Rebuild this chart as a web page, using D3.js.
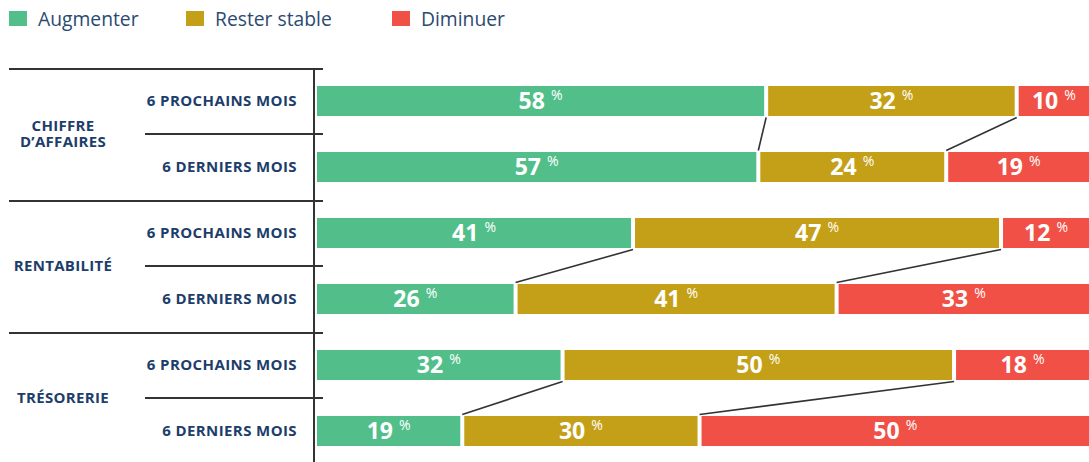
<!DOCTYPE html>
<html>
<head>
<meta charset="utf-8">
<script src="https://cdn.jsdelivr.net/npm/d3@7"></script>
<style>
  html, body { margin: 0; padding: 0; background: #fff; }
  svg { display: block; font-family: "Open Sans", "Noto Sans", sans-serif; }
</style>
</head>
<body>
<div id="chart"></div>
<script>
// Stacked horizontal bars: expected vs past evolution, per indicator

const WIDTH = 1089
const HEIGHT = 462

// DATA
const groups = [["CHIFFRE", "D\u2019AFFAIRES"], ["RENTABILIT\u00c9"], ["TR\u00c9SORERIE"]]
const periods = ["6 PROCHAINS MOIS", "6 DERNIERS MOIS"]
const series = ["Augmenter", "Rester stable", "Diminuer"]
const colors = ["#52bf8b", "#c4a018", "#f15046"]

// one value per row: group x period, in reading order
const augmenter    = [58, 57, 41, 26, 32, 19]
const resterStable = [32, 24, 47, 41, 50, 30]
const diminuer     = [10, 19, 12, 33, 18, 50]

const TEXT = "#1d3d6b"
const LINE = "#333"

const rows = []
groups.forEach((g, gi) => {
  periods.forEach((p, pi) => {
    const i = gi * periods.length + pi
    rows.push({
      key: i,
      group: gi,
      period: p,
      "Augmenter": augmenter[i],
      "Rester stable": resterStable[i],
      "Diminuer": diminuer[i]
    })
  })
})

const svg = d3.select("#chart")
  .append("svg")
  .attr("width", WIDTH)
  .attr("height", HEIGHT)

// SCALES
const x = d3.scaleLinear().domain([0, 1]).range([312, 1095])
const y = d3.scaleBand()
  .domain(rows.map(d => d.key))
  .range([68, 464])
  .paddingInner(0.545)
  .paddingOuter(0.2725)

const color = d3.scaleOrdinal().domain(series).range(colors)

const stack = d3.stack().keys(series).offset(d3.stackOffsetExpand)
const stacked = stack(rows)

const BAR_LEFT = 317
const GAP = 2

// LEGEND
const legendX = [9, 186, 392]
const legend = svg.append("g")
  .selectAll("g")
  .data(series)
  .join("g")
    .attr("transform", (d, i) => `translate(${legendX[i]},11)`)
legend.append("rect")
  .attr("width", 18)
  .attr("height", 15)
  .attr("fill", d => color(d))
legend.append("text")
  .attr("x", 29)
  .attr("y", 14.5)
  .attr("fill", "#2b4a72")
  .style("font-size", "19.3px")
  .text(d => d)

// BARS
const layers = svg.append("g")
  .selectAll("g")
  .data(stacked)
  .join("g")
    .attr("fill", d => color(d.key))

const segLeft = d => d[0] === 0 ? BAR_LEFT : x(d[0]) + GAP
const segRight = d => x(d[1]) - GAP

layers.selectAll("rect")
  .data(d => d)
  .join("rect")
    .attr("x", segLeft)
    .attr("y", d => y(d.data.key))
    .attr("width", d => segRight(d) - segLeft(d))
    .attr("height", y.bandwidth())

// value labels
const labels = svg.append("g")
  .selectAll("g")
  .data(stacked)
  .join("g")
  .selectAll("text")
  .data(s => s.map(d => ({ d: d, v: d.data[s.key] })))
  .join("text")
    .attr("x", o => (segLeft(o.d) + Math.min(segRight(o.d), WIDTH)) / 2)
    .attr("y", o => y(o.d.data.key) + y.bandwidth() / 2 + 8)
    .attr("text-anchor", "middle")
    .attr("fill", "#fff")
    .style("font-weight", 700)
    .style("font-size", "23px")
labels.append("tspan").text(o => o.v)
labels.append("tspan")
  .attr("dx", 6)
  .attr("dy", -9)
  .style("font-size", "14px")
  .style("font-weight", 400)
  .text("%")

// connectors between the two periods of each group
const connectors = []
groups.forEach((g, gi) => {
  const top = gi * 2, bottom = gi * 2 + 1
  for (let k = 0; k < series.length - 1; k++) {
    connectors.push({
      x1: x(stacked[k][top][1]),
      y1: y(top) + y.bandwidth() + 1.5,
      x2: x(stacked[k][bottom][1]),
      y2: y(bottom) - 1.5
    })
  }
})
svg.append("g")
  .selectAll("line")
  .data(connectors)
  .join("line")
    .attr("x1", d => d.x1).attr("y1", d => d.y1)
    .attr("x2", d => d.x2).attr("y2", d => d.y2)
    .attr("stroke", LINE)
    .attr("stroke-width", 1.6)

// TABLE LINES on the left
const step = y.step()
const frame = svg.append("g").attr("stroke", LINE).attr("stroke-width", 2)
frame.append("line")
  .attr("x1", 314).attr("x2", 314)
  .attr("y1", 68).attr("y2", HEIGHT)
groups.forEach((g, gi) => {
  const yTop = y(gi * 2) - y.paddingOuter() * step
  frame.append("line")
    .attr("x1", 9).attr("x2", 323)
    .attr("y1", yTop + 1).attr("y2", yTop + 1)
  const yMid = y(gi * 2 + 1) - (step - y.bandwidth()) / 2
  frame.append("line")
    .attr("x1", 145).attr("x2", 323)
    .attr("y1", yMid).attr("y2", yMid)
})

// row labels
svg.append("g")
  .selectAll("text")
  .data(rows)
  .join("text")
    .attr("x", 297)
    .attr("y", d => y(d.key) + y.bandwidth() / 2 + 5)
    .attr("text-anchor", "end")
    .attr("fill", TEXT)
    .style("font-weight", 700)
    .style("font-size", "15px")
    .style("letter-spacing", "0.4px")
    .text(d => d.period)

// group labels
const gl = svg.append("g")
  .selectAll("text")
  .data(groups)
  .join("text")
    .attr("text-anchor", "middle")
    .attr("fill", TEXT)
    .style("font-weight", 700)
    .style("font-size", "15px")
    .style("letter-spacing", "0.3px")
gl.selectAll("tspan")
  .data((d, gi) => d.map((t, li) => ({ t, li, n: d.length, gi })))
  .join("tspan")
    .attr("x", 63)
    .attr("y", o => y(o.gi * 2 + 1) - (step - y.bandwidth()) / 2 + 5 + (o.li - (o.n - 1) / 2) * 15.5)
    .text(o => o.t)
</script>
</body>
</html>
